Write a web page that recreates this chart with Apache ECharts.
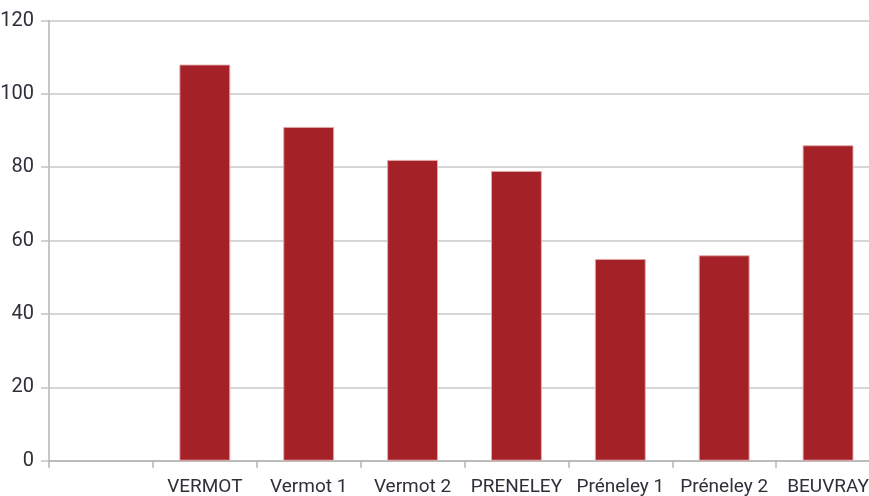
<!DOCTYPE html>
<html>
<head>
<meta charset="utf-8">
<script src="https://cdn.jsdelivr.net/npm/echarts@6/dist/echarts.min.js"></script>
<style>
  html, body { margin: 0; padding: 0; background: #fff; overflow: hidden; }
  /* the plot runs a little past the right edge of the window */
  #chart { width: 880px; height: 496px; }
</style>
</head>
<body>
<div id="chart"></div>
<script>
// Sites (first slot left blank on purpose)
const categories = ['', 'VERMOT', 'Vermot 1', 'Vermot 2', 'PRENELEY', 'Préneley 1', 'Préneley 2', 'BEUVRAY'];
const values = [null, 108, 91, 82, 79, 55, 56, 86];
const yTicks = { min: 0, max: 120, interval: 20 };

const chart = echarts.init(document.getElementById('chart'), null, { renderer: 'canvas' });
const fontFamily = 'Roboto, "DejaVu Sans Condensed", sans-serif';

chart.setOption({
  animation: false,
  grid: { left: 49, top: 20.5, right: 0, bottom: 35.3, containLabel: false, outerBoundsMode: 'none' },
  xAxis: {
    type: 'category',
    data: categories,
    boundaryGap: true,
    axisLine: { show: true, lineStyle: { color: '#b4b4b4', width: 1.5 } },
    axisTick: { show: true, alignWithLabel: false, length: 7, lineStyle: { color: '#b4b4b4', width: 1.5 } },
    axisLabel: { color: '#2f2f3a', fontSize: 19, fontFamily: fontFamily, margin: 17, interval: 0, hideOverlap: false },
    splitLine: { show: false }
  },
  yAxis: {
    type: 'value',
    min: yTicks.min,
    max: yTicks.max,
    interval: yTicks.interval,
    axisLine: { show: true, lineStyle: { color: '#b4b4b4', width: 1.5 } },
    axisTick: { show: true, length: 8, lineStyle: { color: '#c4c4c4', width: 1.5 } },
    axisLabel: { color: '#2f2f3a', fontSize: 20, fontFamily: fontFamily, margin: 15 },
    splitLine: { show: true, lineStyle: { color: '#c8c8c8', width: 1.5 } }
  },
  series: [{
    type: 'bar',
    data: values,
    barWidth: '49%',
    itemStyle: { color: '#a52128', borderColor: 'rgba(230,170,172,0.9)', borderWidth: 1 }
  }]
});
</script>
</body>
</html>
